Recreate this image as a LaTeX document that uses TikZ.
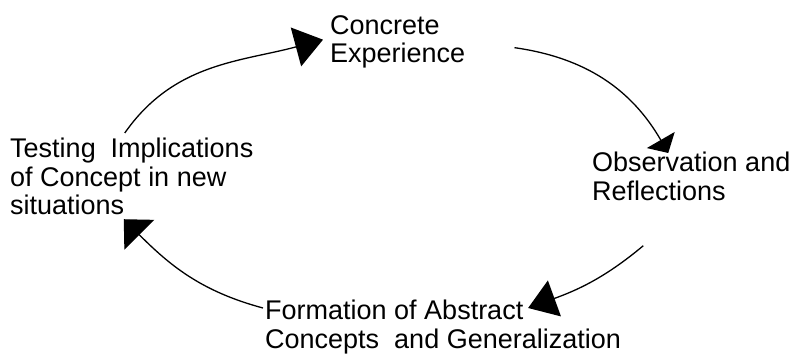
\documentclass[tikz,border=0pt]{standalone}
\usepackage{fontspec}
\setmainfont{Liberation Sans}
\usepackage{tikz}
\usetikzlibrary{arrows.meta}

\begin{document}
\begin{tikzpicture}[x=1pt, y=1pt,
    stage/.style={anchor=north west, inner sep=0pt, align=left, font=\fontsize{27}{28.5}\selectfont},
    flow/.style={line width=1.3pt}]
    % Fix the page size
    \useasboundingbox (0,0) rectangle (796,359);
    
    % Stages of the cycle
    \node[stage] (conc) at (330,344) {Concrete\\Experience};
    \node[stage] (obs) at (592,207) {Observation and\\Reflections};
    \node[stage] (form) at (265,59) {Formation of Abstract\\Concepts~ and Generalization};
    \node[stage] (test) at (10,221) {Testing~ Implications\\of Concept in new\\situations};
    
    % Arrows between the stages
    \draw[flow, -{Triangle[length=28pt,width=40pt]}] ([xshift=-7pt,yshift=5pt]test.north)
        to[out=55, in=195] ([xshift=-7pt,yshift=2pt]conc.west);
    \draw[flow, -{Triangle[length=15pt,width=32pt]}] ([xshift=49pt,yshift=-6pt]conc.east)
        to[out=-8, in=120] ([xshift=-23pt,yshift=-1pt]obs.north);
    \draw[flow, -{Triangle[length=28pt,width=38pt]}] ([xshift=-48pt,yshift=-45pt]obs.south)
        to[out=220, in=20] ([xshift=-93pt,yshift=-8pt]form.north east);
    \draw[flow, -{Triangle[length=22pt,width=42pt]}] ([xshift=-2pt,yshift=-8pt]form.north west)
        to[out=165, in=-45] ([xshift=-8pt,yshift=-4pt]test.south);
    
\end{tikzpicture}
\end{document}
